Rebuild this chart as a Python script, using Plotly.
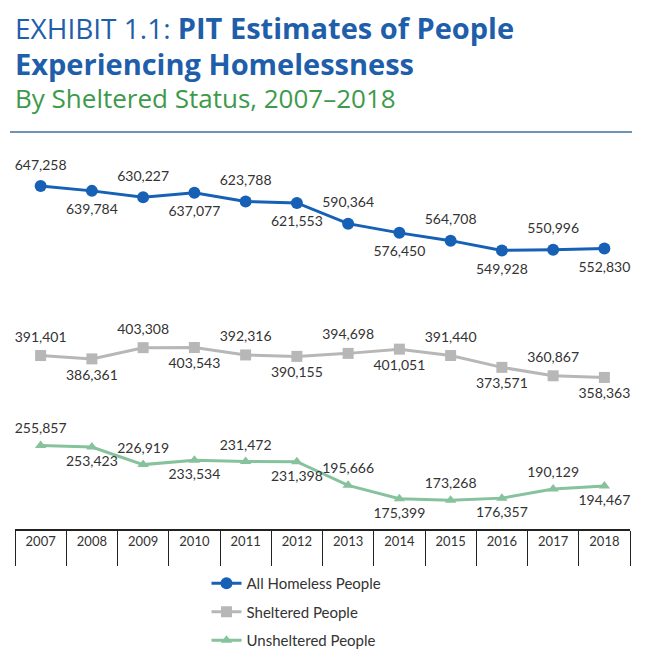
import plotly.graph_objects as go

years = [2007, 2008, 2009, 2010, 2011, 2012, 2013, 2014, 2015, 2016, 2017, 2018]
all_homeless = [647258, 639784, 630227, 637077, 623788, 621553, 590364, 576450, 564708, 549928, 550996, 552830]
sheltered = [391401, 386361, 403308, 403543, 392316, 390155, 394698, 401051, 391440, 373571, 360867, 358363]
unsheltered = [255857, 253423, 226919, 233534, 231472, 231398, 195666, 175399, 173268, 176357, 190129, 194467]
series_names = ["All Homeless People", "Sheltered People", "Unsheltered People"]

positions = ["top center" if i % 2 == 0 else "bottom center" for i in range(len(years))]

def fmt(v):
    return f"{v:,}"

FONT = "Lato"
TFONT = "Open Sans"
W_FIG, H_FIG = 648, 655
ML, MR, MT, MB = 7, 26, 150, 133
W = W_FIG - ML - MR
H = H_FIG - MT - MB

fig = go.Figure()
specs = [
    (all_homeless, "#1661b5", "circle", 12, 19),
    (sheltered, "#b7b7b7", "square", 11, 15),
    (unsheltered, "#86c29c", "triangle-up", 10, 12),
]
for i, (vals, col, sym, size, gap) in enumerate(specs):
    fig.add_trace(go.Scatter(
        x=years, y=vals, name=series_names[i], legendgroup=f"g{i}",
        mode="lines+markers",
        line=dict(color=col, width=3),
        marker=dict(symbol=sym, size=size, color=col),
        cliponaxis=False, hoverinfo="x+y",
    ))
for i, (vals, col, sym, size, gap) in enumerate(specs):
    fig.add_trace(go.Scatter(
        x=years, y=vals, mode="markers+text", showlegend=False,
        marker=dict(size=gap, opacity=0, color=col),
        text=[fmt(v) for v in vals], textposition=positions,
        textfont=dict(family=FONT, size=14, color="#333333"),
        cliponaxis=False, hoverinfo="skip",
    ))

def px(x):
    return (x - ML) / W
def py(y):
    return (H_FIG - MB - y) / H

fig.update_layout(
    width=W_FIG, height=H_FIG,
    margin=dict(l=ML, r=MR, t=MT, b=MB),
    paper_bgcolor="white", plot_bgcolor="white",
    showlegend=True,
    legend=dict(x=px(198.5), y=py(559),
                xanchor="left", yanchor="top",
                font=dict(family=FONT, size=15, color="#333333"),
                tracegroupgap=6, itemwidth=30),
    xaxis=dict(range=[2006.5, 2018.5], tickmode="array", tickvals=years,
               ticktext=[str(y) for y in years], ticks="", showgrid=False,
               zeroline=False, showline=True, linecolor="#222222", linewidth=1.5,
               tickfont=dict(family=FONT, size=13, color="#333333"),
               ticklabelstandoff=0,
               minor=dict(tick0=2007.5, dtick=1, ticks="outside", ticklen=35,
                          tickcolor="#222222", tickwidth=1, showgrid=False)),
    yaxis=dict(range=[129800, 689360], visible=False, showgrid=False, zeroline=False),
)

fig.add_annotation(text="EXHIBIT 1.1: <b><span style='font-size:29px'>PIT Estimates of People</span></b>",
                   x=px(5), y=py(19.5), xref="paper", yref="paper", showarrow=False, align="left",
                   xanchor="left", yanchor="middle",
                   font=dict(family=TFONT, size=28, color="#1e5eaa"))
fig.add_annotation(text="<b>Experiencing Homelessness</b>",
                   x=px(5), y=py(55), xref="paper", yref="paper", showarrow=False, align="left",
                   xanchor="left", yanchor="middle",
                   font=dict(family=TFONT, size=29, color="#1e5eaa"))
fig.add_annotation(text="By Sheltered Status, 2007–2018",
                   x=px(5), y=py(90), xref="paper", yref="paper", showarrow=False, align="left",
                   xanchor="left", yanchor="middle",
                   font=dict(family=TFONT, size=26, color="#3d9a4a"))
fig.add_shape(type="line", xref="paper", yref="paper", x0=px(2), x1=px(624), y0=py(124), y1=py(124),
              line=dict(color="#6f92bb", width=2))

fig.write_html("out.html")
